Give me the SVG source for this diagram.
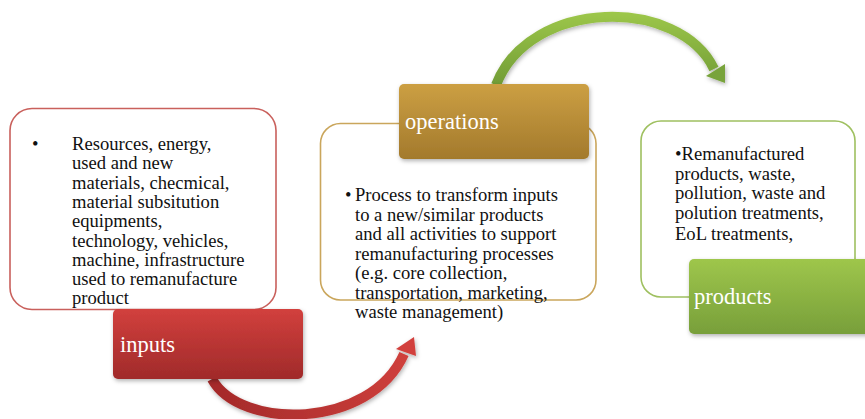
<svg xmlns="http://www.w3.org/2000/svg" width="865" height="419" viewBox="0 0 865 419">
<style>
.body{font-family:"Liberation Serif","Times New Roman",serif;font-size:18.6px;fill:#111}
.lbl{font-family:"Liberation Serif","Times New Roman",serif;font-size:22.5px;fill:#fff}
.outline{fill:#fff;stroke-width:1.6}
</style>
<defs>
<linearGradient id="gRed" x1="0" y1="0" x2="0" y2="1"><stop offset="0" stop-color="#d2403d"/><stop offset="1" stop-color="#a02a2a"/></linearGradient>
<linearGradient id="gGold" x1="0" y1="0" x2="0" y2="1"><stop offset="0" stop-color="#cc9f43"/><stop offset="1" stop-color="#a37a2c"/></linearGradient>
<linearGradient id="gGreen" x1="0" y1="0" x2="0" y2="1"><stop offset="0" stop-color="#9ec64b"/><stop offset="1" stop-color="#789f3a"/></linearGradient>
<linearGradient id="aRed" gradientUnits="userSpaceOnUse" x1="212" y1="400" x2="415" y2="340"><stop offset="0" stop-color="#a42a2a"/><stop offset="1" stop-color="#d2413d"/></linearGradient>
<linearGradient id="aGreen" gradientUnits="userSpaceOnUse" x1="0" y1="10" x2="0" y2="85"><stop offset="0" stop-color="#9ec84a"/><stop offset="1" stop-color="#719c36"/></linearGradient>
<filter id="sh" x="-10%" y="-10%" width="125%" height="130%"><feDropShadow dx="1" dy="2" stdDeviation="2" flood-color="#000" flood-opacity="0.3"/></filter>
</defs>
<g id="connectors">
<g id="arrow-inputs-operations" filter="url(#sh)">
<path d="M212 379 C240 430 370 430 404 354" fill="none" stroke="url(#aRed)" stroke-width="10"/>
<polygon points="396,349 414,337 416,356" fill="#d2413d"/>
</g>
<g id="arrow-operations-products" filter="url(#sh)">
<path d="M496 85 C530 -3 680 -3 714 69" fill="none" stroke="url(#aGreen)" stroke-width="10"/>
<polygon points="706,76 725,64 725,83" fill="#78a33a"/>
</g>
</g>
<g id="inputs">
<rect class="outline" x="10" y="108.5" width="266" height="201" rx="22" stroke="#c9605c"/>
<text class="body" x="32" y="150">•</text>
<text class="body">
<tspan x="72" y="150">Resources, energy,</tspan>
<tspan x="72" y="169.3">used and new</tspan>
<tspan x="72" y="188.6">materials, checmical,</tspan>
<tspan x="72" y="207.9">material subsitution</tspan>
<tspan x="72" y="227.2">equipments,</tspan>
<tspan x="72" y="246.5">technology, vehicles,</tspan>
<tspan x="72" y="265.8">machine, infrastructure</tspan>
<tspan x="72" y="285.1">used to remanufacture</tspan>
<tspan x="72" y="304.4">product</tspan>
</text>
<rect x="113" y="309" width="190" height="70" rx="5" fill="url(#gRed)" filter="url(#sh)"/>
<text class="lbl" x="120" y="352">inputs</text>
</g>
<g id="operations">
<rect class="outline" x="320.5" y="123.5" width="275.5" height="176.5" rx="20" stroke="#caa65c"/>
<text class="body" x="345" y="201">•</text>
<text class="body">
<tspan x="355" y="201">Process to transform inputs</tspan>
<tspan x="355" y="220.5">to a new/similar  products</tspan>
<tspan x="355" y="240">and all activities to support</tspan>
<tspan x="355" y="259.5">remanufacturing processes</tspan>
<tspan x="355" y="279">(e.g. core collection,</tspan>
<tspan x="355" y="298.5">transportation, marketing,</tspan>
<tspan x="355" y="318">waste management)</tspan>
</text>
<rect x="399" y="84" width="190" height="75" rx="5" fill="url(#gGold)" filter="url(#sh)"/>
<text class="lbl" x="405" y="129">operations</text>
</g>
<g id="products">
<rect class="outline" x="641" y="121" width="214" height="176" rx="20" stroke="#9fc060"/>
<text class="body">
<tspan x="675" y="160">•Remanufactured</tspan>
<tspan x="675" y="179.5">products, waste,</tspan>
<tspan x="675" y="199">pollution, waste and</tspan>
<tspan x="675" y="218.5">polution treatments,</tspan>
<tspan x="675" y="240">EoL treatments,</tspan>
</text>
<rect x="689" y="259" width="190" height="75" rx="5" fill="url(#gGreen)" filter="url(#sh)"/>
<text class="lbl" x="694" y="304">products</text>
</g>
</svg>
